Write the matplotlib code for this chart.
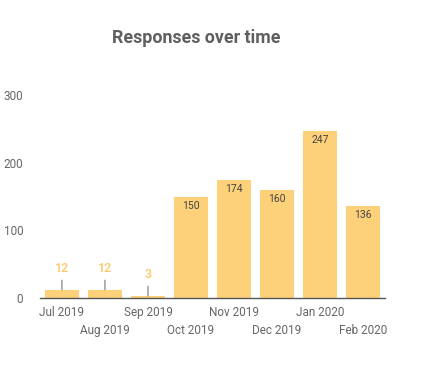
import matplotlib
matplotlib.use("Agg")
import matplotlib.pyplot as plt

months = ["Jul 2019", "Aug 2019", "Sep 2019", "Oct 2019", "Nov 2019",
          "Dec 2019", "Jan 2020", "Feb 2020"]
responses = [12, 12, 3, 150, 174, 160, 247, 136]
yticks = [0, 100, 200, 300]

plt.rcParams['font.family'] = ['Roboto', 'DejaVu Sans']

bar_color = "#FDD17A"
small_label_color = "#FDC66A"
text_gray = "#666666"

fig = plt.figure(figsize=(4.32, 3.69), dpi=100)
ax = fig.add_axes([40/432, 1 - 298/369, 345/432, 203/369])

x = list(range(len(months)))
ax.bar(x, responses, width=0.79, color=bar_color, zorder=2)

ax.set_xlim(-0.51, len(months) - 0.49)
ax.set_ylim(0, 300)
ax.set_yticks(yticks)
ax.set_yticklabels([str(v) for v in yticks], color=text_gray, fontsize=8.5)
ax.tick_params(axis='y', length=0, pad=12)
ax.set_xticks(x)
ax.set_xticklabels([])
ax.tick_params(axis='x', length=0)

for i, m in enumerate(months):
    off = 0 if i % 2 == 0 else 13
    ax.annotate(m, xy=(i, 0), xytext=(0, -6 - off), textcoords='offset points',
                ha='center', va='top', fontsize=8.5, color=text_gray)

for s in ["top", "right", "left"]:
    ax.spines[s].set_visible(False)
ax.spines["bottom"].set_color("#555555")
ax.spines["bottom"].set_linewidth(1)

for i, v in enumerate(responses):
    if v < 30:
        ax.annotate(str(v), xy=(i, v), xytext=(0, 10.5), textcoords='offset points',
                    ha='center', va='bottom', fontsize=9, fontweight='medium',
                    color=small_label_color,
                    arrowprops=dict(arrowstyle='-', color='#777777', lw=0.8,
                                    shrinkA=1.5, shrinkB=0))
    else:
        ax.annotate(str(v), xy=(i, v), xytext=(0, -3), textcoords='offset points',
                    ha='center', va='top', fontsize=7.5, color="#444444")

fig.text(196/432, 1 - 38/369, "Responses over time", ha='center', va='center',
         fontsize=12.8, fontweight='bold', color="#5f5f5f")

fig.savefig("out.png", dpi=100, facecolor="white")
